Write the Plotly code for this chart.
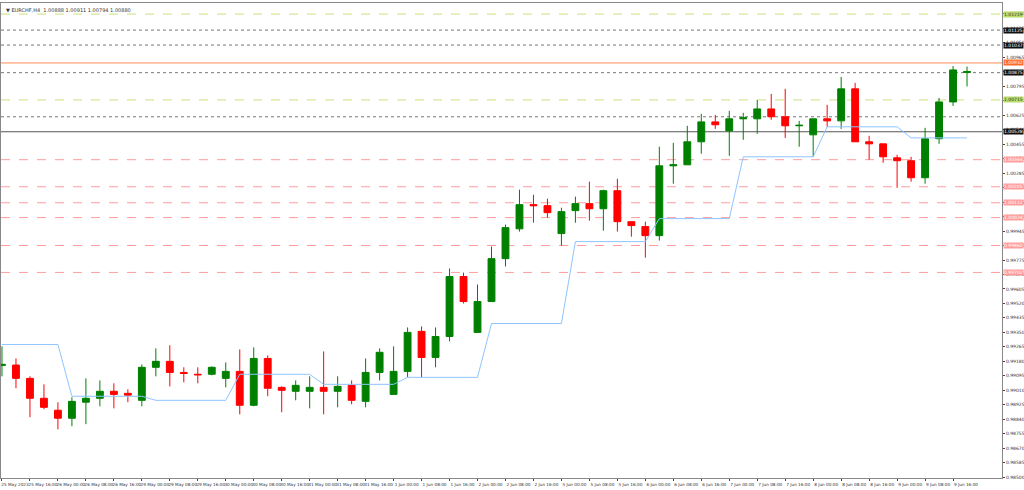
import plotly.graph_objects as go

opens = [0.99156,0.99158,0.99080,0.98963,0.98893,0.98846,0.98940,0.98963,0.99004,0.98992,
         0.98951,0.99145,0.99180,0.99115,0.99104,0.99104,0.99080,0.99121,0.98922,0.99197,
         0.99027,0.99004,0.99004,0.99027,0.99004,0.99039,0.98945,0.99115,0.98986,0.99121,
         0.99356,0.99203,0.99326,0.99678,0.99350,0.99531,0.99783,0.99958,1.00100,1.00094,
         0.99930,1.00065,1.00106,1.00076,1.00182,1.00000,0.99971,0.99918,1.00328,1.00334,
         1.00469,1.00586,1.00533,1.00604,1.00604,1.00662,1.00616,1.00563,1.00510,1.00604,
         1.00592,1.00780,1.00469,1.00457,1.00375,1.00358,1.00258,1.00487,1.00703,1.00876]
highs = [0.99268,0.99197,0.99092,0.99045,0.98940,0.98969,0.99080,0.99068,0.99051,0.99016,
         0.99162,0.99256,0.99274,0.99145,0.99145,0.99150,0.99174,0.99250,0.99262,0.99215,
         0.99033,0.99068,0.99092,0.99238,0.99092,0.99068,0.99197,0.99256,0.99268,0.99379,
         0.99385,0.99379,0.99725,0.99701,0.99631,0.99854,0.99983,1.00188,1.00158,1.00135,
         1.00082,1.00147,1.00235,1.00188,1.00252,1.00000,1.00000,1.00440,1.00463,1.00563,
         1.00633,1.00627,1.00651,1.00639,1.00715,1.00750,1.00780,1.00592,1.00604,1.00686,
         1.00850,1.00815,1.00504,1.00457,1.00393,1.00381,1.00551,1.00727,1.00914,1.00911]
lows = [0.99092,0.99022,0.98852,0.98899,0.98781,0.98799,0.98811,0.98916,0.98904,0.98940,
        0.98916,0.99092,0.99033,0.99057,0.99051,0.99098,0.99027,0.98869,0.98916,0.98975,
        0.98881,0.98951,0.98904,0.98869,0.98910,0.98928,0.98910,0.99068,0.98986,0.99086,
        0.99086,0.99145,0.99297,0.99520,0.99350,0.99531,0.99737,0.99942,0.99994,1.00024,
        0.99860,0.99994,1.00006,0.99947,0.99942,0.99912,0.99789,0.99889,1.00223,1.00334,
        1.00399,1.00545,1.00387,1.00481,1.00516,1.00598,1.00492,1.00440,1.00381,1.00557,
        1.00545,1.00469,1.00364,1.00346,1.00199,1.00235,1.00223,1.00457,1.00680,1.00794]
closes = [0.99162,0.99080,0.98963,0.98910,0.98846,0.98945,0.98963,0.99004,0.98986,0.98981,
          0.99145,0.99180,0.99115,0.99109,0.99101,0.99145,0.99121,0.98922,0.99197,0.99022,
          0.99010,0.99039,0.99027,0.99004,0.99033,0.98951,0.99115,0.99233,0.99121,0.99350,
          0.99203,0.99326,0.99678,0.99531,0.99531,0.99783,0.99965,1.00100,1.00094,1.00053,
          1.00059,1.00106,1.00076,1.00182,1.00000,0.99977,0.99918,1.00328,1.00334,1.00469,
          1.00586,1.00569,1.00604,1.00610,1.00662,1.00616,1.00563,1.00566,1.00604,1.00592,
          1.00780,1.00469,1.00457,1.00381,1.00358,1.00258,1.00487,1.00703,1.00891,1.00882]
stop_line = [0.99279]*5 + [0.98975]*6 + [0.98951]*6 + [0.99104]*6 + [0.99045]*6 + \
            [0.99086]*6 + [0.99402]*6 + [0.99883]*6 + [1.00018]*6 + [1.00381]*6 + \
            [1.00557]*6 + [1.00492]*5

x_labels = ["25 May 2023","25 May 16:00","26 May 00:00","26 May 08:00","26 May 16:00",
            "29 May 00:00","29 May 08:00","29 May 16:00","30 May 00:00","30 May 08:00",
            "30 May 16:00","31 May 00:00","31 May 08:00","31 May 16:00","1 Jun 00:00",
            "1 Jun 08:00","1 Jun 16:00","2 Jun 00:00","2 Jun 08:00","2 Jun 16:00",
            "5 Jun 00:00","5 Jun 08:00","5 Jun 16:00","6 Jun 00:00","6 Jun 08:00",
            "6 Jun 16:00","7 Jun 00:00","7 Jun 08:00","7 Jun 16:00","8 Jun 00:00",
            "8 Jun 08:00","8 Jun 16:00","9 Jun 00:00","9 Jun 08:00","9 Jun 16:00"]
y_ticks = [round(0.98500 + 0.00085*k, 5) for k in range(33)]

# horizontal levels: (price, color, dash, label bg, label font color)
levels = [(1.01219, "#c8e07a", "dash", "#b8dc6a", "#333"),
          (1.01125, "#777", "dot", "#111", "#fff"),
          (1.01037, "#777", "dot", "#111", "#fff"),
          (1.00932, "#ff8c55", "solid", "#ff6a2a", "#fff"),
          (1.00875, "#777", "dot", "#111", "#fff"),
          (1.00715, "#c8e07a", "dash", "#b8dc6a", "#333"),
          (1.00616, "#777", "dot", None, None),
          (1.00528, "#555", "solid", "#111", "#fff"),
          (1.00364, "#ff9c9c", "dash", "#ff9c9c", "#fff"),
          (1.00205, "#ff9c9c", "dash", "#ff9c9c", "#fff"),
          (1.00111, "#ff9c9c", "dash", "#ff9c9c", "#fff"),
          (1.00024, "#ff9c9c", "dash", "#ff9c9c", "#fff"),
          (0.99860, "#ff9c9c", "dash", "#ff9c9c", "#fff"),
          (0.99702, "#ff9c9c", "dash", "#ff9c9c", "#fff")]

idx = list(range(len(opens)))
fig = go.Figure()
fig.add_trace(go.Scatter(x=idx, y=stop_line, mode="lines", line=dict(color="#8ec5ff", width=1),
                         hoverinfo="skip"))
fig.add_trace(go.Candlestick(x=idx, open=opens, high=highs, low=lows, close=closes,
                             increasing=dict(line=dict(color="#008000", width=1), fillcolor="#008000"),
                             decreasing=dict(line=dict(color="#ff0000", width=1), fillcolor="#ff0000"),
                             whiskerwidth=0))
for p, c, d, bg, fc in levels:
    fig.add_shape(type="line", xref="paper", x0=0, x1=1, y0=p, y1=p,
                  line=dict(color=c, width=1, dash=d), layer="below")
    if bg:
        fig.add_annotation(xref="paper", x=1.0, xanchor="left", xshift=1, y=p, yanchor="middle",
                           text=f"{p:.5f}", showarrow=False, bgcolor=bg,
                           font=dict(size=4.5, color=fc, family="DejaVu Sans"), borderpad=0)
fig.add_annotation(xref="paper", yref="paper", x=0.003, y=0.995, xanchor="left", yanchor="top",
                   text="▼ EURCHF,H4  1.00888 1.00911 1.00794 1.00880", showarrow=False,
                   font=dict(size=5, color="#333", family="DejaVu Sans"))
fig.update_layout(
    width=1024, height=490, margin=dict(l=1, r=22, t=3, b=12),
    paper_bgcolor="white", plot_bgcolor="white", showlegend=False,
    xaxis=dict(range=[-0.07, 71.5], tickvals=[2*k for k in range(len(x_labels))], ticktext=x_labels,
               tickfont=dict(size=4.2, color="#333", family="DejaVu Sans"), ticks="outside", ticklen=2,
               tickangle=0, automargin=False, ticklabelshift=13, ticklabelstandoff=0,
               showgrid=False, rangeslider=dict(visible=False), showline=True, linecolor="#888",
               mirror=True, zeroline=False),
    yaxis=dict(range=[0.98495, 1.01284], side="right", tickvals=y_ticks, automargin=False,
               ticktext=[f"{v:.5f}" for v in y_ticks], tickfont=dict(size=4.5, color="#333", family="DejaVu Sans"),
               ticks="outside", ticklen=2, ticklabelstandoff=0, showgrid=False, showline=True, linecolor="#888",
               mirror=True, zeroline=False),
)
fig.write_html("out.html", config={"displayModeBar": False},
               post_script="document.body.style.margin='0';document.body.style.overflow='hidden';")
